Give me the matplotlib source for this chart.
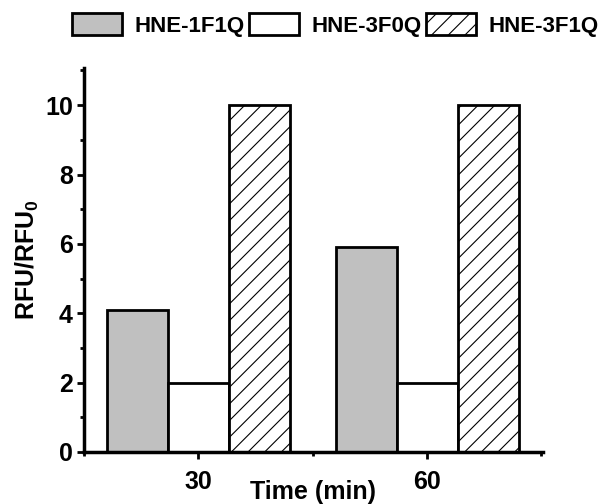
import matplotlib
matplotlib.use("Agg")
import matplotlib.pyplot as plt
from matplotlib.ticker import MultipleLocator

plt.rcParams['font.family'] = ['Liberation Sans', 'DejaVu Sans']
plt.rcParams['font.weight'] = 'bold'
plt.rcParams['hatch.linewidth'] = 0.8
plt.rcParams['mathtext.fontset'] = 'custom'
plt.rcParams['mathtext.rm'] = 'Liberation Sans:bold'
plt.rcParams['mathtext.bf'] = 'Liberation Sans:bold'
plt.rcParams['mathtext.default'] = 'bf'

times = [30, 60]
series_names = ["HNE-1F1Q", "HNE-3F0Q", "HNE-3F1Q"]
hne_1f1q = [4.1, 5.9]
hne_3f0q = [2.0, 2.0]
hne_3f1q = [10.0, 10.0]

fig = plt.figure(figsize=(6.02, 5.04), dpi=100)
ax = fig.add_axes([0.1395, 0.1032, 0.7625, 0.7618])

w = 8
styles = [dict(facecolor='#c0c0c0', hatch=None),
          dict(facecolor='white', hatch=None),
          dict(facecolor='white', hatch='//')]
data = [hne_1f1q, hne_3f0q, hne_3f1q]
for i, (vals, st, name) in enumerate(zip(data, styles, series_names)):
    xs = [t + (i - 1) * w for t in times]
    ax.bar(xs, vals, width=w, facecolor=st['facecolor'], hatch=st['hatch'],
           edgecolor='black', linewidth=2, label=name)

ax.set_xlim(15, 75.2)
ax.set_ylim(0, 11.07)
ax.set_xticks(times)
ax.xaxis.set_minor_locator(MultipleLocator(15))
ax.set_yticks([0, 2, 4, 6, 8, 10])
ax.yaxis.set_minor_locator(MultipleLocator(1))

for s in ['top', 'right']:
    ax.spines[s].set_visible(False)
for s in ['left', 'bottom']:
    ax.spines[s].set_linewidth(2.5)

ax.tick_params(axis='both', which='major', direction='out', length=5, width=2,
               labelsize=18)
ax.tick_params(axis='x', which='major', pad=8)
ax.tick_params(axis='y', which='major', pad=3)
ax.tick_params(axis='both', which='minor', direction='out', length=3, width=2)
for lab in ax.get_xticklabels() + ax.get_yticklabels():
    lab.set_fontweight('bold')

ax.set_xlabel('Time (min)', fontsize=18, fontweight='bold', labelpad=-10)
ax.set_ylabel('RFU/RFU$_0$', fontsize=18, fontweight='bold', labelpad=3)

leg = fig.legend(loc='center', bbox_to_anchor=(0.557, 1 - 25 / 504), ncol=3,
                 frameon=False, handlelength=2.25, handleheight=1.08,
                 columnspacing=0.22, handletextpad=0.54, borderpad=0.0,
                 prop={'weight': 'bold', 'size': 16})

fig.savefig('out.png', dpi=100)
